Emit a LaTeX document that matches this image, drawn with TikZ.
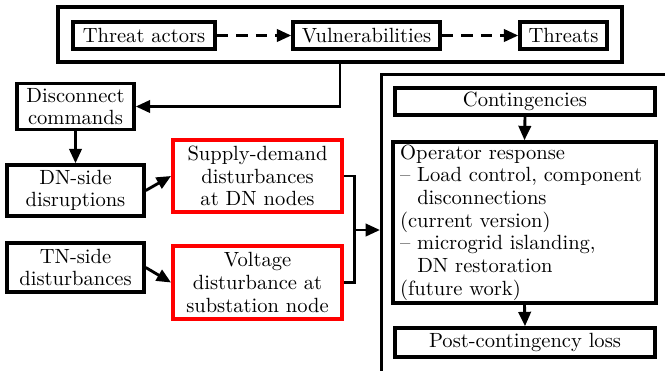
\documentclass[tikz,border=0pt]{standalone}
\usetikzlibrary{arrows.meta}
\begin{document}
\begin{tikzpicture}[x=0.4864pt,y=-0.4864pt,
  sz/.style 2 args={minimum width=#1*0.4864pt,minimum height=#2*0.4864pt},
  txt/.style={font=\fontsize{10}{11}\selectfont},
  blk/.style={txt,draw=black,line width=1.7pt,inner sep=0pt,align=center},
  redbox/.style={blk,draw=red,line width=1.9pt},
  frame/.style={draw=black,line width=1.5pt,inner sep=0pt},
  joinline/.style={draw=black,line width=1.4pt},
  link/.style={joinline,-{Triangle[length=7pt,width=6pt]}},
  dlink/.style={link,dash pattern=on 5.5pt off 4pt}]
\useasboundingbox (0,0) rectangle (665,370);
\clip (0,0) rectangle (665,370);

% threat chain
\node[frame,sz={564}{55}] (top) at (340,34.5) {};
\node[blk,sz={142}{27}] (ta) at (144,35.5) {Threat actors};
\node[blk,sz={147}{27}] (vu) at (366.5,35.5) {Vulnerabilities};
\node[blk,sz={87}{27}] (th) at (563.5,35.5) {Threats};
\draw[dlink] (ta) -- (vu);
\draw[dlink] (vu) -- (th);

% left column
\node[blk,sz={117}{46}] (dc) at (75.5,106.5) {Disconnect\\commands};
\node[blk,sz={137}{51}] (dn) at (75.5,190.5) {DN-side\\disruptions};
\node[blk,sz={137}{49}] (tn) at (75.5,267.5) {TN-side\\disturbances};
\node[redbox,sz={169}{72}] (sd) at (257.5,176) {Supply-demand\\disturbances\\at DN nodes};
\node[redbox,sz={169}{73}] (vd) at (257.5,282.5) {Voltage\\disturbance at\\substation node};

\draw[link] (top.south) |- (dc.east);
\draw[link] (dc.south) -- (dn.north);
\draw[link] (dn.east) -- (sd.west);
\draw[link] (tn.east) -- (vd.west);

% right column
\node[frame,sz={300}{310},anchor=north west] (sim) at (380,73) {};
\node[blk,sz={260}{27}] (cont) at (525,101.5) {Contingencies};
\node[blk,sz={261}{161},align=left,text width=121pt,inner xsep=3.5pt] (resp) at (524.5,222.5)
  {Operator response\\
   -- Load control, component\\
   \phantom{-- }disconnections\\
   (current version)\\
   -- microgrid islanding,\\
   \phantom{-- }DN restoration\\
   (future work)};
\node[blk,sz={260}{29}] (post) at (525,342.5) {Post-contingency loss};
\draw[link] (cont.south) -- (resp.north);
\draw[link] (resp.south) -- (post.north);

% merge into the right column
\coordinate (m) at (354.5,230);
\draw[joinline] (sd.east) -- (sd.east -| m) -- (vd.east -| m) -- (vd.east);
\draw[link] (m) -- (m -| sim.west);
\end{tikzpicture}
\end{document}
